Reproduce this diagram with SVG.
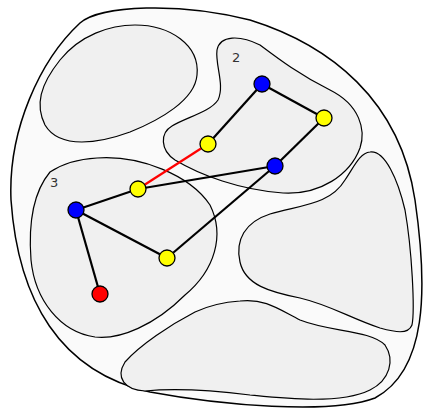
<svg xmlns="http://www.w3.org/2000/svg" width="425" height="410" viewBox="0 0 425 410">
<style>
.outer{fill:#fafafa;stroke:#000;stroke-width:1.5}
.reg{fill:#f0f0f0;stroke:#000;stroke-width:1.2}
.lbl{font-family:"DejaVu Sans",sans-serif;font-size:13px;fill:#333}
.e{stroke:#000;stroke-width:2.2;fill:none}
.er{stroke:#f00;stroke-width:2.2;fill:none}
.n{stroke:#000;stroke-width:1.3}
.b{fill:#0000ff}.y{fill:#ffff00}.r{fill:#ff0000}
</style>
<rect width="425" height="410" fill="#fff"/>
<g id="outer"><path class="outer" d="M 80,23 C 100,5 180,2 250,20 C 330,45 400,100 415,200 C 428,290 427,370 375,398 C 330,415 220,405 150,392 C 60,372 18,300 11,200 C 8,130 40,60 80,23 Z"/></g>
<g id="region1"><path class="reg" d="M 60,60 C 80,35 110,25 135,25 C 170,25 200,45 197,75 C 195,100 160,120 130,132 C 100,143 60,150 45,125 C 35,105 40,85 60,60 Z"/></g>
<g id="region2"><path class="reg" d="M 217,50 C 220,35 240,35 260,45 C 280,60 300,75 330,90 C 360,105 366,130 360,148 C 350,175 320,195 283,193 C 240,190 200,175 175,160 C 160,150 160,133 172,126 C 187,117 210,112 218,100 C 225,85 215,65 217,50 Z"/><text class="lbl" x="232" y="62">2</text></g>
<g id="region3"><path class="reg" d="M 97,158 C 140,155 190,175 210,205 C 225,235 215,270 185,295 C 155,325 120,340 95,337 C 60,332 35,300 31,260 C 28,220 35,190 50,172 C 65,162 80,159 97,158 Z"/><text class="lbl" x="50" y="187">3</text></g>
<g id="region4"><path class="reg" d="M 370,152 C 385,150 398,180 405,210 C 412,250 415,310 412,325 C 408,335 395,332 380,328 C 350,318 330,305 300,298 C 270,292 245,285 240,262 C 235,240 245,222 270,214 C 300,205 330,205 345,180 C 355,165 360,153 370,152 Z"/></g>
<g id="region5"><path class="reg" d="M 240,301 C 265,298 280,310 300,320 C 330,332 370,330 385,345 C 395,360 390,380 370,390 C 340,405 280,398 250,395 C 210,390 175,388 145,391 C 125,390 115,378 125,362 C 140,345 170,325 195,312 C 210,305 225,302 240,301 Z"/></g>
<g id="connectors">
<line class="e" x1="262" y1="84" x2="324" y2="118"/>
<line class="e" x1="262" y1="84" x2="208" y2="144"/>
<line class="e" x1="324" y1="118" x2="275" y2="166"/>
<line class="er" x1="208" y1="144" x2="138" y2="189"/>
<line class="e" x1="138" y1="189" x2="275" y2="166"/>
<line class="e" x1="76" y1="210" x2="138" y2="189"/>
<line class="e" x1="76" y1="210" x2="167" y2="258"/>
<line class="e" x1="167" y1="258" x2="275" y2="166"/>
<line class="e" x1="76" y1="210" x2="100" y2="294"/>
</g>
<g id="n1"><circle class="n b" cx="262" cy="84" r="8"/></g>
<g id="n2"><circle class="n y" cx="324" cy="118" r="8"/></g>
<g id="n3"><circle class="n y" cx="208" cy="144" r="8"/></g>
<g id="n4"><circle class="n b" cx="275" cy="166" r="8"/></g>
<g id="n5"><circle class="n y" cx="138" cy="189" r="8"/></g>
<g id="n6"><circle class="n b" cx="76" cy="210" r="8"/></g>
<g id="n7"><circle class="n y" cx="167" cy="258" r="8"/></g>
<g id="n8"><circle class="n r" cx="100" cy="294" r="8"/></g>
</svg>
